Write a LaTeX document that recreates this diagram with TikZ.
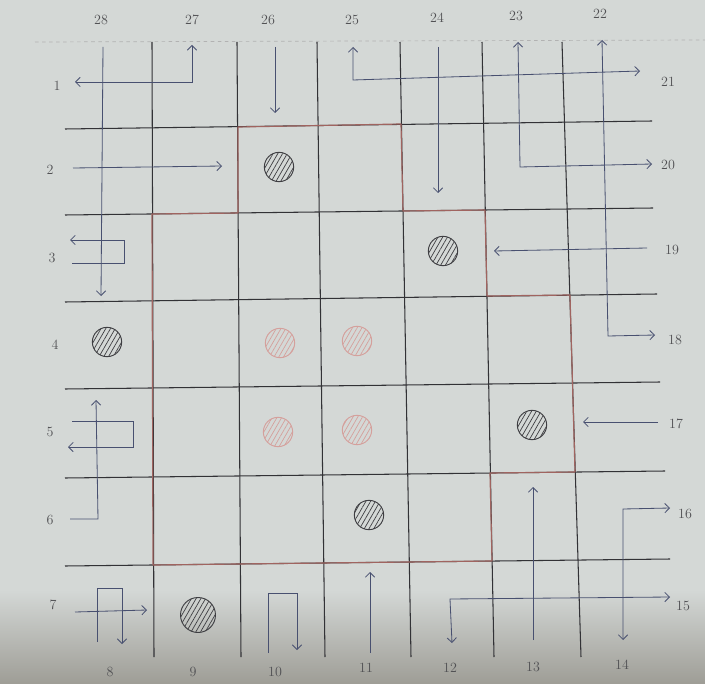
\documentclass[tikz,border=0pt]{standalone}
\usepackage{xcolor}
\definecolor{paper}{RGB}{212,216,214}
\definecolor{paperdark}{RGB}{158,157,150}
\definecolor{gridcol}{RGB}{50,50,54}
\definecolor{raycol}{RGB}{72,80,112}
\definecolor{boxcol}{RGB}{160,100,96}
\definecolor{ballcol}{RGB}{62,62,66}
\definecolor{guesscol}{RGB}{212,160,156}
\usepackage{tikz}
\usetikzlibrary{arrows.meta,patterns.meta}

\begin{document}
\begin{tikzpicture}[x=0.03cm, y=-0.03cm,
  gridline/.style={gridcol, line width=0.9pt},
  boxline/.style={boxcol, line width=1pt, line join=round},
  oneway/.style={raycol, line width=0.7pt, -{Straight Barb[length=4pt,width=8pt]}},
  twoway/.style={raycol, line width=0.7pt,
                 {Straight Barb[length=4pt,width=8pt]}-{Straight Barb[length=4pt,width=8pt]}},
  ball/.style={circle, draw=ballcol, line width=0.8pt, minimum size=0.88cm, inner sep=0pt,
               pattern={Lines[angle=60,distance=3.5pt,line width=0.6pt]}, pattern color=ballcol},
  guess/.style={ball, draw=guesscol, pattern color=guesscol},
  num/.style={font=\large, text=gridcol!85}
]

%% paper
\fill[paper] (0,0) rectangle (705,684);
\shade[top color=paper, bottom color=paperdark] (0,590) rectangle (705,684);
\useasboundingbox (0,0) rectangle (705,684);

%% grid
\draw[gray!60, dashed, line width=0.6pt] (35,42) -- (705,40);
\foreach \xt/\xb in {152/154,237/241,317/325,400/411,482/494,562/581}
  \draw[gridline] (\xt,42) -- (\xb,657);
\foreach \yl/\yr/\xr in {129/121/652,215/208/653,302/294/657,389/382/660,478/471/665,566/559/670}
  \draw[gridline] (65,\yl) -- (\xr,\yr);

%% box outline
\draw[boxline] (238,127) -- (401,124) -- (403,211) -- (485,210) -- (487,296) -- (570,295)
  -- (575,472) -- (490,473) -- (492,561) -- (153,565) -- (152,214) -- (238,213) -- cycle;

%% numbers round the edge
\foreach \n/\x/\y in {28/101/20,27/192/20,26/268/20,25/352/20,24/437/18,23/516/16,22/600/14}
  \node[num] (n\n) at (\x,\y) {\n};
\foreach \n/\x/\y in {1/57/86,2/50/170,3/52/258,4/55/345,5/50/432,6/50/520,7/53/605}
  \node[num] (n\n) at (\x,\y) {\n};
\foreach \n/\x/\y in {21/668/82,20/668/165,19/672/250,18/675/340,17/676/424,16/685/514,15/683/606}
  \node[num] (n\n) at (\x,\y) {\n};
\foreach \n/\x/\y in {8/110/672,9/193/672,10/275/672,11/366/668,12/450/668,13/533/667,14/622/665}
  \node[num] (n\n) at (\x,\y) {\n};

%% balls
\node[ball] (b1) at (279,167) {};
\node[ball] (b2) at (443,251) {};
\node[ball] (b3) at (107,342) {};
\node[ball] (b4) at (532,425) {};
\node[ball] (b5) at (369,515) {};
\node[ball, minimum size=1.05cm] (b6) at (198,615) {};
\node[guess] (g1) at (280,343) {};
\node[guess] (g2) at (357,341) {};
\node[guess] (g3) at (278,432) {};
\node[guess] (g4) at (357,430) {};

%% rays
\draw[twoway] (75,82) -- (192,82) -- (192,45);
\draw[oneway] (275,47) -- (275,113);
\draw[twoway] (353,47) -- (353,80) -- (640,71);
\draw[oneway] (438,47) -- (438,193);
\draw[twoway] (518,42) -- (520,167) -- (652,164);
\draw[twoway] (602,40) -- (608,336) -- (655,335);
\draw[oneway] (103,47) -- (101,296);
\draw[oneway] (73,168) -- (222,166);
\draw[oneway] (72,263) -- (124,263) -- (124,240) -- (70,240);
\draw[oneway] (72,421) -- (133,421) -- (133,447) -- (68,447);
\draw[oneway] (70,519) -- (98,519) -- (96,400);
\draw[oneway] (75,612) -- (147,610);
\draw[oneway] (97,642) -- (97,588) -- (122,588) -- (122,644);
\draw[oneway] (268,653) -- (268,593) -- (297,593) -- (297,650);
\draw[oneway] (370,653) -- (370,572);
\draw[twoway] (452,643) -- (450,599) -- (670,597);
\draw[oneway] (533,640) -- (533,487);
\draw[twoway] (623,640) -- (623,509) -- (670,508);
\draw[oneway] (658,422) -- (583,422);
\draw[oneway] (647,248) -- (494,251);
\end{tikzpicture}
\end{document}
